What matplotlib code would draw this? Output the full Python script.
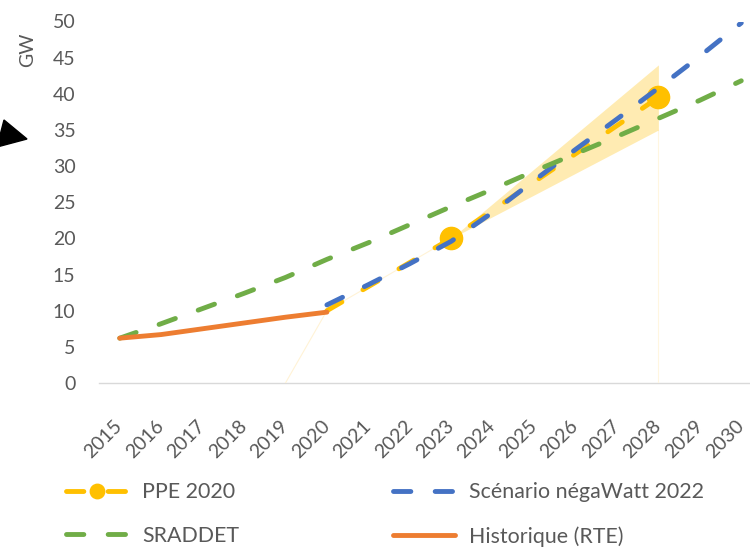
import matplotlib.pyplot as plt
from matplotlib.patches import Polygon

# categories (years) on the x axis
years = list(range(2015, 2031))

# Historique (RTE), 2015-2020
hist_years = [2015, 2016, 2017, 2018, 2019, 2020]
historique = [6.2, 6.7, 7.5, 8.3, 9.1, 9.8]

# PPE 2020 points and uncertainty band
ppe_years = [2020, 2023, 2028]
ppe = [10.0, 20.0, 39.5]
band_years = [2023, 2028]
band_low = [20.0, 35.0]
band_high = [20.0, 44.0]

# Scénario négaWatt 2022, 2020-2030
nw_years = list(range(2020, 2031))
negawatt = [10.8, 13.6, 16.5, 19.6, 23.6, 28.0, 32.3, 36.5, 40.8, 45.2, 49.8]

# SRADDET, 2015-2030
sraddet = [6.2, 8.2, 10.3, 12.4, 14.6, 17.1, 19.4, 21.9, 24.4, 26.8,
           29.3, 31.7, 34.1, 36.6, 39.1, 41.8]

yticks = list(range(0, 51, 5))

GOLD = '#FFC000'
BLUE = '#4472C4'
GREEN = '#70AD47'
ORANGE = '#ED7D31'
GREY = '#595959'

plt.rcParams['font.family'] = ['Lato', 'DejaVu Sans']
plt.rcParams['lines.scale_dashes'] = False

W, H = 750, 549
fig = plt.figure(figsize=(7.5, 5.49), dpi=100)
# plot area in pixels: x 99..762, y 21.5..383
ax = fig.add_axes([99 / W, 1 - 383 / H, (762 - 99) / W, (383 - 21.5) / H])

def xi(ys):
    return [y - 2015 for y in ys]

dash = (0, (12.5, 17.5))

# faint edges of the band area
ax.plot(xi([2019, 2020, 2023]), [0, 10.0, 20.0], color='#FFF3D6', lw=0.8, zorder=1)
ax.plot(xi([2028, 2028]), [0, 35.0], color='#FFF6E0', lw=0.8, zorder=1)

ax.fill_between(xi(band_years), band_low, band_high, color=GOLD, alpha=0.3,
                lw=0, zorder=1)

ax.plot(xi(ppe_years), ppe, color=GOLD, lw=3.5, linestyle=dash,
        dash_capstyle='round', marker='o', markersize=16, markevery=[1, 2],
        label='PPE 2020', zorder=2)
ax.plot(xi(nw_years), negawatt, color=BLUE, lw=3.5, linestyle=dash,
        dash_capstyle='round', label='Scénario négaWatt 2022', zorder=3)
ax.plot(xi(years), sraddet, color=GREEN, lw=3.5, linestyle=dash,
        dash_capstyle='round', label='SRADDET', zorder=4)
ax.plot(xi(hist_years), historique, color=ORANGE, lw=3.5,
        solid_capstyle='round', label='Historique (RTE)', zorder=5)

ax.set_xlim(-0.5, 15.5)
ax.set_ylim(0, 50)
ax.set_yticks(yticks)
ax.set_xticks(range(len(years)))
ax.set_xticklabels([str(y) for y in years], rotation=45, ha='right',
                   va='center', rotation_mode='anchor')
ax.tick_params(axis='both', length=0, colors=GREY, labelsize=14)
ax.tick_params(axis='y', pad=17)
ax.tick_params(axis='x', pad=29)

for s in ['top', 'right', 'left']:
    ax.spines[s].set_visible(False)
ax.spines['bottom'].set_color('#D9D9D9')
ax.spines['bottom'].set_linewidth(1.0)
ax.spines['bottom'].set_zorder(0)

fig.text(28 / W, 1 - 50 / H, 'GW', rotation=90, ha='center', va='center',
         color=GREY, fontsize=14)

# black pointer at the left edge
fig.patches.append(Polygon([(4 / W, 1 - 120 / H), (27 / W, 1 - 139 / H),
                            (-3 / W, 1 - 147 / H)], closed=True,
                           transform=fig.transFigure, color='black'))

h, l = ax.get_legend_handles_labels()
order = [0, 2, 1, 3]
fig.legend([h[i] for i in order], [l[i] for i in order], ncol=2,
           loc='upper left', bbox_to_anchor=(66 / W, 1 - 482 / H),
           frameon=False, fontsize=15.4, labelcolor=GREY, handlelength=2.9,
           handletextpad=0.65, columnspacing=7.2, labelspacing=1.12,
           borderpad=0, borderaxespad=0, markerscale=0.65)

fig.savefig('out.png', dpi=100)
